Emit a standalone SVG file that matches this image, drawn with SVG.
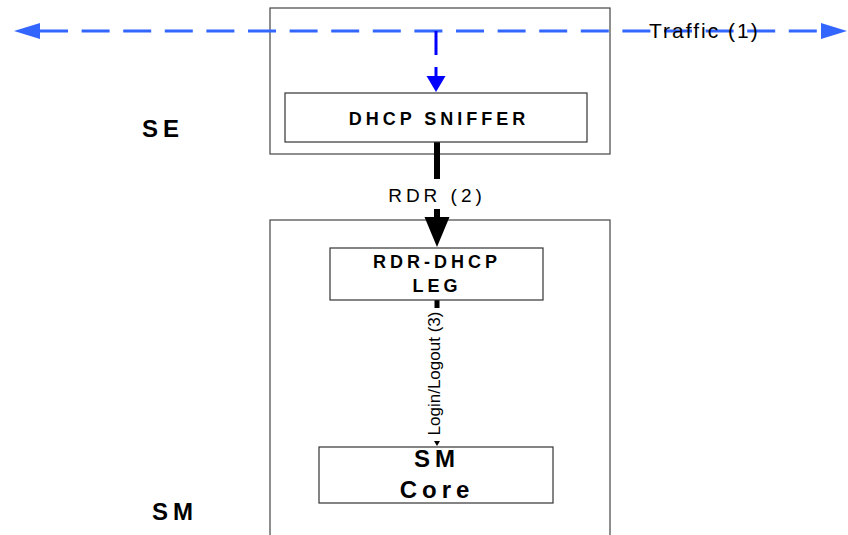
<svg xmlns="http://www.w3.org/2000/svg" width="848" height="535" viewBox="0 0 848 535">
  <style>
    .outer { fill: #ffffff; stroke: #444444; stroke-width: 1.2; }
    .box { fill: #ffffff; stroke: #333333; stroke-width: 1.2; }
    .lbl { font-family: "Liberation Sans", Arial, sans-serif; fill: #000000; }
    .big { font-size: 24px; font-weight: bold; letter-spacing: 5px; }
    .node { font-size: 18px; font-weight: bold; letter-spacing: 4px; text-anchor: middle; }
    .edge { font-size: 19px; letter-spacing: 4px; text-anchor: middle; }
    .traffic { fill: none; stroke: #3366ff; stroke-width: 3; stroke-dasharray: 28 13.6; }
    .sniff { fill: none; stroke: #0000ff; stroke-width: 3; stroke-dasharray: 24 12; }
    .rdr { fill: none; stroke: #000000; stroke-width: 6; }
  </style>
  <defs>
    <marker id="blueHead" markerUnits="userSpaceOnUse" markerWidth="27" markerHeight="17" refX="0" refY="8" orient="auto-start-reverse">
      <path d="M0,0 L26,8 L0,16 z" fill="#3366ff"/>
    </marker>
    <marker id="sniffHead" markerUnits="userSpaceOnUse" markerWidth="17" markerHeight="20" refX="0" refY="9.5" orient="auto">
      <path d="M0,0 L16,9.5 L0,19 z" fill="#0000ff"/>
    </marker>
    <marker id="blackHead" markerUnits="userSpaceOnUse" markerWidth="31" markerHeight="26" refX="0" refY="12.5" orient="auto">
      <path d="M0,0 L30,12.5 L0,25 z" fill="#000000"/>
    </marker>
  </defs>

  <rect width="848" height="535" fill="#ffffff"/>

  <g id="se">
    <rect class="outer" x="270" y="8" width="340" height="146"/>
    <text class="lbl big" x="142" y="137">SE</text>
  </g>
  <g id="sm">
    <rect class="outer" x="270" y="220" width="340" height="330"/>
    <text class="lbl big" x="152" y="520">SM</text>
  </g>

  <g id="connectors">
    <path class="traffic" d="M40,31 H821" marker-start="url(#blueHead)" marker-end="url(#blueHead)"/>
    <text class="lbl" x="649" y="38" font-size="21" letter-spacing="2">Traffic (1)</text>
    <path class="sniff" d="M436,31 V76" marker-end="url(#sniffHead)"/>
    <path class="rdr" d="M437,142 V179 M437,209 V217" marker-end="url(#blackHead)"/>
    <text class="lbl edge" x="437" y="202">RDR (2)</text>
    <path d="M437,300 V308" stroke="#000000" stroke-width="5" fill="none"/>
    <text class="lbl" transform="translate(440,373.5) rotate(-90)" x="0" y="0" font-size="17" text-anchor="middle">Login/Logout (3)</text>
    <path d="M434,441 L440,441 L437,446 z" fill="#000000"/>
  </g>

  <g id="dhcp-sniffer">
    <rect class="box" x="285" y="93" width="302" height="49"/>
    <text class="lbl node" x="439" y="125">DHCP SNIFFER</text>
  </g>
  <g id="rdr-dhcp-leg">
    <rect class="box" x="330" y="248" width="213" height="52"/>
    <text class="lbl node" x="437" y="268">RDR-DHCP</text>
    <text class="lbl node" x="437" y="292">LEG</text>
  </g>
  <g id="sm-core">
    <rect class="box" x="319" y="447" width="234" height="56"/>
    <text class="lbl big" x="437" y="467" text-anchor="middle">SM</text>
    <text class="lbl big" x="437" y="498" text-anchor="middle">Core</text>
  </g>
</svg>
